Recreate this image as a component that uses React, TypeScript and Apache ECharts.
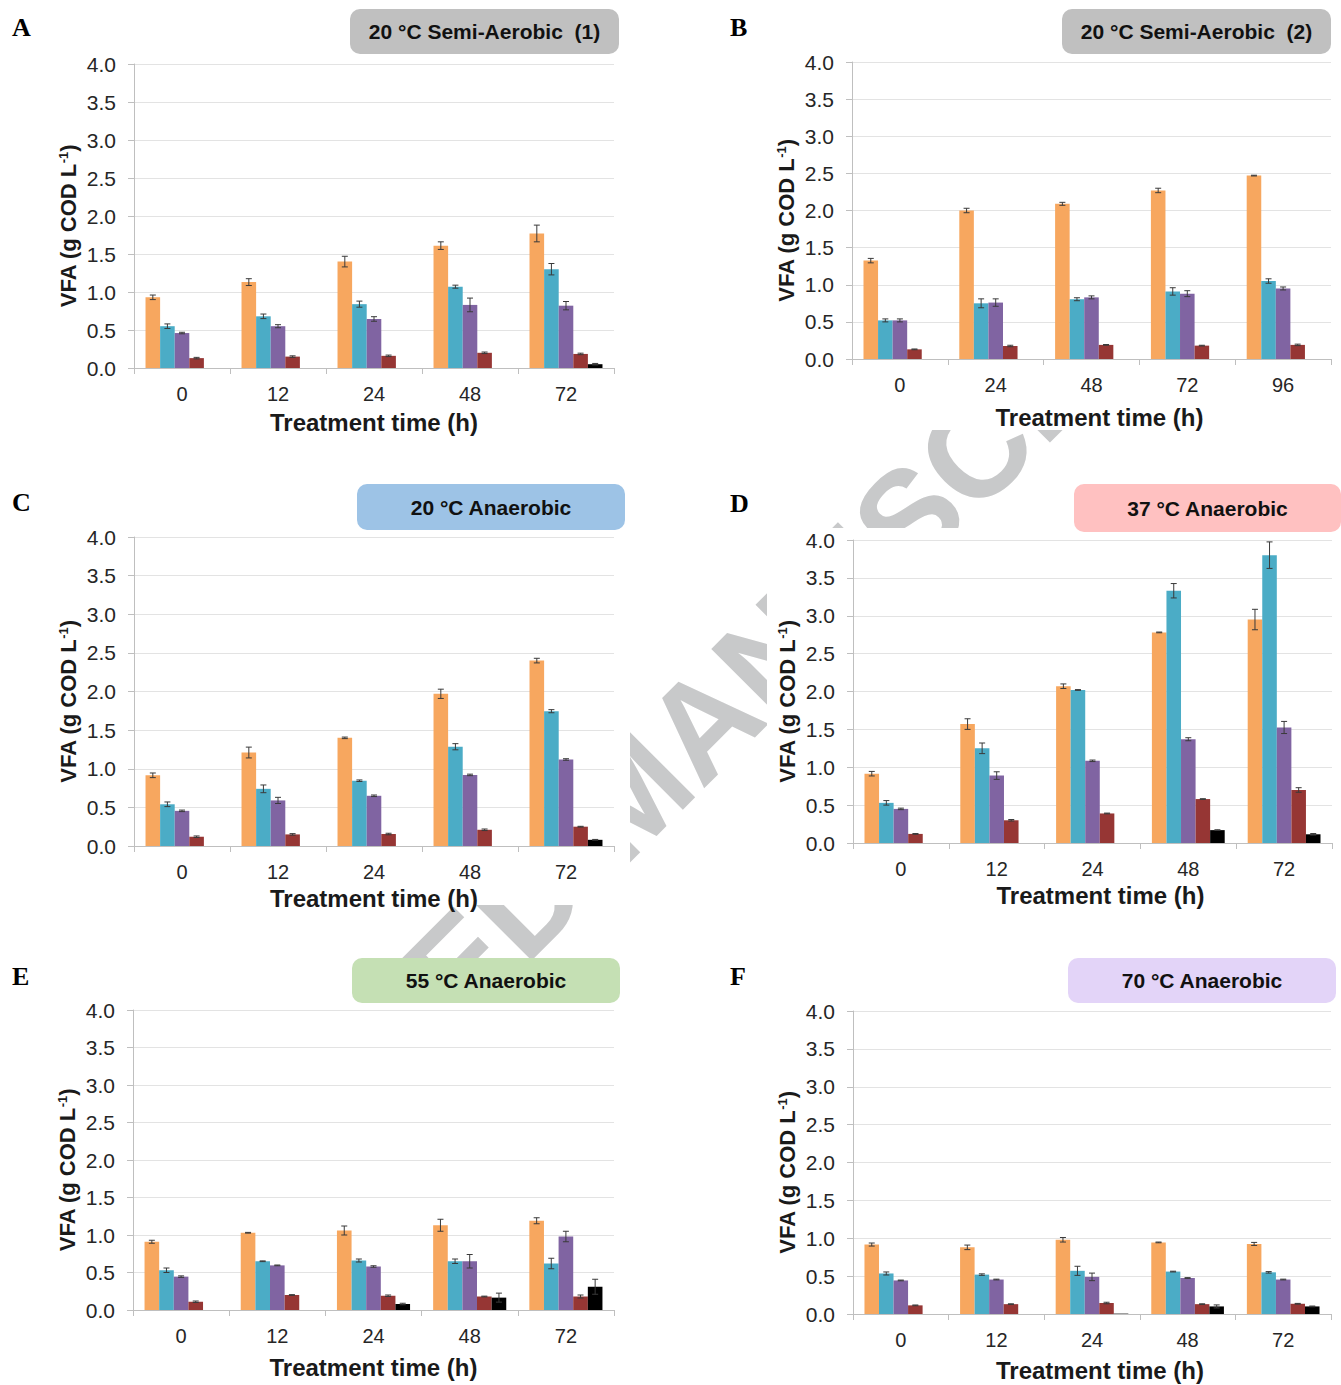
import React, { useEffect, useRef } from "react";
import * as echarts from "echarts";

// ---------- categories ----------
const hoursStandard = ["0", "12", "24", "48", "72"];
const hoursPanelB = ["0", "24", "48", "72", "96"];

const seriesNames = ["VFA-1", "VFA-2", "VFA-3", "VFA-4", "VFA-5"];
const seriesColors = ["#F7A75F", "#4BACC6", "#8064A2", "#963634", "#000000"];

const panelLetters = ["A", "B", "C", "D", "E", "F"];
const panelTitles = [
  "20 °C Semi-Aerobic  (1)",
  "20 °C Semi-Aerobic  (2)",
  "20 °C Anaerobic",
  "37 °C Anaerobic",
  "55 °C Anaerobic",
  "70 °C Anaerobic",
];
const yTickLabels = ["0.0", "0.5", "1.0", "1.5", "2.0", "2.5", "3.0", "3.5", "4.0"];
const watermarkText = "ACCEPTED MANUSCRIPT";

// ---------- values (rows: orange, teal, purple, red, black) ----------
const valuesA = [
  [0.93, 1.13, 1.4, 1.61, 1.77],
  [0.55, 0.68, 0.84, 1.07, 1.3],
  [0.46, 0.55, 0.645, 0.83, 0.82],
  [0.13, 0.15, 0.16, 0.2, 0.185],
  [null, null, null, null, 0.05],
];
const errorsA = [
  [0.03, 0.045, 0.07, 0.05, 0.11],
  [0.03, 0.03, 0.04, 0.02, 0.075],
  [0.01, 0.02, 0.03, 0.09, 0.055],
  [0.01, 0.01, 0.01, 0.01, 0.01],
  [0, 0, 0, 0, 0.01],
];

const valuesB = [
  [1.325, 2.0, 2.09, 2.27, 2.47],
  [0.52, 0.75, 0.805, 0.91, 1.05],
  [0.52, 0.76, 0.83, 0.88, 0.95],
  [0.13, 0.175, 0.19, 0.18, 0.19],
  [null, null, null, null, null],
];
const errorsB = [
  [0.03, 0.03, 0.02, 0.03, 0.005],
  [0.02, 0.06, 0.02, 0.05, 0.03],
  [0.02, 0.05, 0.02, 0.04, 0.02],
  [0.005, 0.01, 0.005, 0.005, 0.01],
  [0, 0, 0, 0, 0],
];

const valuesC = [
  [0.915, 1.21, 1.4, 1.97, 2.4],
  [0.54, 0.74, 0.845, 1.285, 1.745],
  [0.455, 0.59, 0.65, 0.92, 1.12],
  [0.12, 0.15, 0.155, 0.21, 0.25],
  [null, null, null, null, 0.08],
];
const errorsC = [
  [0.03, 0.07, 0.01, 0.06, 0.03],
  [0.03, 0.05, 0.01, 0.04, 0.02],
  [0.01, 0.04, 0.01, 0.01, 0.01],
  [0.01, 0.01, 0.01, 0.01, 0.005],
  [0, 0, 0, 0, 0.005],
];

const valuesD = [
  [0.915, 1.57, 2.07, 2.78, 2.95],
  [0.53, 1.25, 2.02, 3.33, 3.8],
  [0.45, 0.89, 1.085, 1.37, 1.525],
  [0.12, 0.3, 0.39, 0.58, 0.7],
  [null, null, null, 0.17, 0.115],
];
const errorsD = [
  [0.03, 0.07, 0.03, 0.005, 0.135],
  [0.03, 0.07, 0.005, 0.095, 0.175],
  [0.01, 0.05, 0.01, 0.02, 0.08],
  [0.005, 0.01, 0.005, 0.005, 0.03],
  [0, 0, 0, 0.005, 0.01],
];

const valuesE = [
  [0.91, 1.03, 1.06, 1.13, 1.19],
  [0.53, 0.65, 0.66, 0.65, 0.62],
  [0.445, 0.595, 0.58, 0.65, 0.98],
  [0.11, 0.2, 0.19, 0.18, 0.18],
  [null, null, 0.08, 0.165, 0.31],
];
const errorsE = [
  [0.02, 0.005, 0.06, 0.08, 0.04],
  [0.03, 0.005, 0.02, 0.03, 0.07],
  [0.01, 0.005, 0.01, 0.09, 0.07],
  [0.01, 0.005, 0.01, 0.005, 0.02],
  [0, 0, 0.01, 0.06, 0.1],
];

const valuesF = [
  [0.917, 0.88, 0.98, 0.945, 0.925],
  [0.535, 0.52, 0.57, 0.56, 0.55],
  [0.443, 0.455, 0.49, 0.475, 0.455],
  [0.114, 0.13, 0.145, 0.13, 0.135],
  [null, null, 0.005, 0.1, 0.1],
];
const errorsF = [
  [0.02, 0.03, 0.03, 0.005, 0.02],
  [0.02, 0.01, 0.06, 0.005, 0.01],
  [0.005, 0.005, 0.05, 0.005, 0.005],
  [0.005, 0.005, 0.01, 0.005, 0.005],
  [0, 0, 0, 0.02, 0.005],
];

const panelCategories = [hoursStandard, hoursPanelB, hoursStandard, hoursStandard, hoursStandard, hoursStandard];
const panelValues = [valuesA, valuesB, valuesC, valuesD, valuesE, valuesF];
const panelErrors = [errorsA, errorsB, errorsC, errorsD, errorsE, errorsF];

// ---------- layout / styles ----------
const titleColors = ["#c0c0c0", "#c0c0c0", "#9dc3e6", "#ffc1c1", "#c5e0b4", "#e3d4f8"];
const gridBoxes = [
  { left: 134, top: 64, width: 480, height: 304 },
  { left: 852, top: 62, width: 479, height: 297 },
  { left: 134, top: 537, width: 480, height: 309 },
  { left: 853, top: 540, width: 479, height: 303 },
  { left: 133, top: 1010, width: 481, height: 300 },
  { left: 853, top: 1011, width: 478, height: 303 },
];
const titleBoxes = [
  [350, 9, 269, 45],
  [1062, 9, 269, 45],
  [357, 484, 268, 46],
  [1074, 484, 267, 48],
  [352, 958, 268, 45],
  [1068, 958, 268, 45],
];
const letterPositions = [
  [12, 27],
  [730, 27],
  [12, 502],
  [730, 503],
  [12, 976],
  [730, 976],
];
const xNameGaps = [42, 46, 40, 40, 45, 44];
const xNameShift = [0, 16, 0, 16, 0, 16];
const occluders = [
  [0, 0, 640, 440],
  [767, 0, 574, 430],
  [0, 440, 630, 465],
  [767, 528, 574, 387],
  [0, 960, 640, 415],
  [767, 960, 574, 425],
];
// Arial/Liberation Sans Bold advance widths (em) for the watermark letters
const boldWidths: Record<string, number> = {
  A: 0.722, C: 0.722, E: 0.667, P: 0.667, T: 0.611, D: 0.722, " ": 0.278,
  M: 0.833, N: 0.722, U: 0.722, S: 0.667, R: 0.722, I: 0.278,
};
const WM_SIZE = 136;
const WM_CENTER = [631, 795];

const FONT = '"Liberation Sans", Arial, Helvetica, sans-serif';
const CAT_GAP = 0.24;
const N_SERIES = 5;

function renderErrorBar(params: any, api: any) {
  const ci = api.value(0);
  const si = api.value(1);
  const v = api.value(2);
  const e = api.value(3);
  const band = api.size([1, 0])[0];
  const bw = (band * (1 - CAT_GAP)) / N_SERIES;
  const base = api.coord([ci, v]);
  const x = base[0] + (si - (N_SERIES - 1) / 2) * bw;
  const yTop = api.coord([ci, v + e])[1];
  const yBot = api.coord([ci, v - e])[1];
  const style = { stroke: "#3a3a3a", lineWidth: 1 };
  return {
    type: "group",
    children: [
      { type: "line", shape: { x1: x, y1: yTop, x2: x, y2: yBot }, style },
      { type: "line", shape: { x1: x - 3, y1: yTop, x2: x + 3, y2: yTop }, style },
      { type: "line", shape: { x1: x - 3, y1: yBot, x2: x + 3, y2: yBot }, style },
    ],
  };
}

function watermarkGraphics() {
  const chars = watermarkText.split("");
  const total = chars.reduce((s, c) => s + (boldWidths[c] ?? 0.6), 0);
  const out: any[] = [];
  let acc = 0;
  const dir = [Math.SQRT1_2, -Math.SQRT1_2];
  chars.forEach((c, i) => {
    const w = boldWidths[c] ?? 0.6;
    const mid = (acc + w / 2 - total / 2) * WM_SIZE;
    acc += w;
    if (c === " " || i === 0) return; // first letter lies beyond the page corner
    out.push({
      type: "text",
      x: WM_CENTER[0] + dir[0] * mid,
      y: WM_CENTER[1] + dir[1] * mid,
      rotation: Math.PI / 4,
      z: -5,
      silent: true,
      style: {
        text: c,
        font: `bold ${WM_SIZE}px ${FONT}`,
        fill: "#c8c9ca",
        align: "center",
        verticalAlign: "middle",
      },
    });
  });
  return out;
}

function buildOption() {
  const grid: any[] = [];
  const xAxis: any[] = [];
  const yAxis: any[] = [];
  const series: any[] = [];
  const graphic: any[] = [...watermarkGraphics()];

  occluders.forEach((o) => {
    graphic.push({
      type: "rect",
      z: -4,
      silent: true,
      shape: { x: o[0], y: o[1], width: o[2], height: o[3] },
      style: { fill: "#ffffff" },
    });
  });

  for (let p = 0; p < 6; p++) {
    grid.push({ ...gridBoxes[p], containLabel: false });
    xAxis.push({
      type: "category",
      gridIndex: p,
      data: panelCategories[p],
      axisLine: { show: true, lineStyle: { color: "#bfbfbf", width: 1 } },
      axisTick: { show: true, length: 6, alignWithLabel: false, lineStyle: { color: "#bfbfbf" } },
      axisLabel: { fontSize: 20, color: "#262626", margin: 16, fontFamily: FONT },
      splitLine: { show: false },
      name: "Treatment time (h)",
      nameLocation: "middle",
      nameGap: xNameGaps[p],
      nameTextStyle: {
        fontSize: 24,
        fontWeight: "bold",
        color: "#1a1a1a",
        fontFamily: FONT,
        padding: [0, 0, 0, xNameShift[p]],
      },
    });
    yAxis.push({
      type: "value",
      gridIndex: p,
      min: 0,
      max: 4,
      interval: 0.5,
      axisLine: { show: true, lineStyle: { color: "#bfbfbf", width: 1 } },
      axisTick: { show: true, length: 6, lineStyle: { color: "#bfbfbf" } },
      splitLine: { show: true, lineStyle: { color: "#e3e3e3", width: 1 } },
      axisLabel: {
        fontSize: 21,
        color: "#262626",
        margin: 18,
        fontFamily: FONT,
        formatter: (v: number) => yTickLabels[Math.round(v / 0.5)] ?? v.toFixed(1),
      },
      name: "VFA (g COD L{sup|-1})",
      nameLocation: "middle",
      nameGap: 54,
      nameTextStyle: {
        fontSize: 22,
        fontWeight: "bold",
        color: "#1a1a1a",
        fontFamily: FONT,
        padding: [0, 20, 0, 0],
        rich: {
          sup: { fontSize: 13, fontWeight: "bold", color: "#1a1a1a", fontFamily: FONT, verticalAlign: "top", padding: [0, 0, 10, 0] },
        },
      },
    });

    const vals = panelValues[p];
    const errs = panelErrors[p];
    const errData: any[] = [];
    for (let s = 0; s < N_SERIES; s++) {
      series.push({
        type: "bar",
        name: seriesNames[s],
        xAxisIndex: p,
        yAxisIndex: p,
        data: vals[s].map((v) => (v === null ? "-" : v)),
        barGap: "0%",
        barCategoryGap: CAT_GAP * 100 + "%",
        itemStyle: { color: seriesColors[s] },
        z: 2,
      });
      vals[s].forEach((v, ci) => {
        if (v !== null && errs[s][ci] > 0) errData.push([ci, s, v, errs[s][ci]]);
      });
    }
    series.push({
      type: "custom",
      name: "error-" + panelLetters[p],
      xAxisIndex: p,
      yAxisIndex: p,
      renderItem: renderErrorBar,
      encode: { x: 0, y: 2 },
      data: errData,
      z: 3,
      silent: true,
    });

    graphic.push({
      type: "text",
      x: letterPositions[p][0],
      y: letterPositions[p][1],
      z: 10,
      style: {
        text: panelLetters[p],
        font: 'bold 26px "Liberation Serif", "Times New Roman", serif',
        fill: "#000",
        align: "left",
        verticalAlign: "middle",
      },
    });
    const tb = titleBoxes[p];
    graphic.push({
      type: "rect",
      z: 10,
      shape: { x: tb[0], y: tb[1], width: tb[2], height: tb[3], r: 10 },
      style: { fill: titleColors[p] },
    });
    graphic.push({
      type: "text",
      z: 11,
      x: tb[0] + tb[2] / 2,
      y: tb[1] + tb[3] / 2,
      style: {
        text: panelTitles[p],
        font: `bold 21px ${FONT}`,
        fill: "#111",
        align: "center",
        verticalAlign: "middle",
      },
    });
  }

  return {
    animation: false,
    backgroundColor: "#ffffff",
    textStyle: { fontFamily: FONT },
    legend: { show: false },
    tooltip: { show: false },
    grid,
    xAxis,
    yAxis,
    series,
    graphic,
  };
}

export default function App() {
  const ref = useRef<HTMLDivElement>(null);
  useEffect(() => {
    if (!ref.current) return;
    const chart = echarts.init(ref.current, undefined, { renderer: "svg" });
    chart.setOption(buildOption() as any);
    return () => chart.dispose();
  }, []);
  return (
    <div
      ref={ref}
      style={{ position: "absolute", left: 0, top: 0, width: 1341, height: 1385, background: "#fff" }}
    />
  );
}
